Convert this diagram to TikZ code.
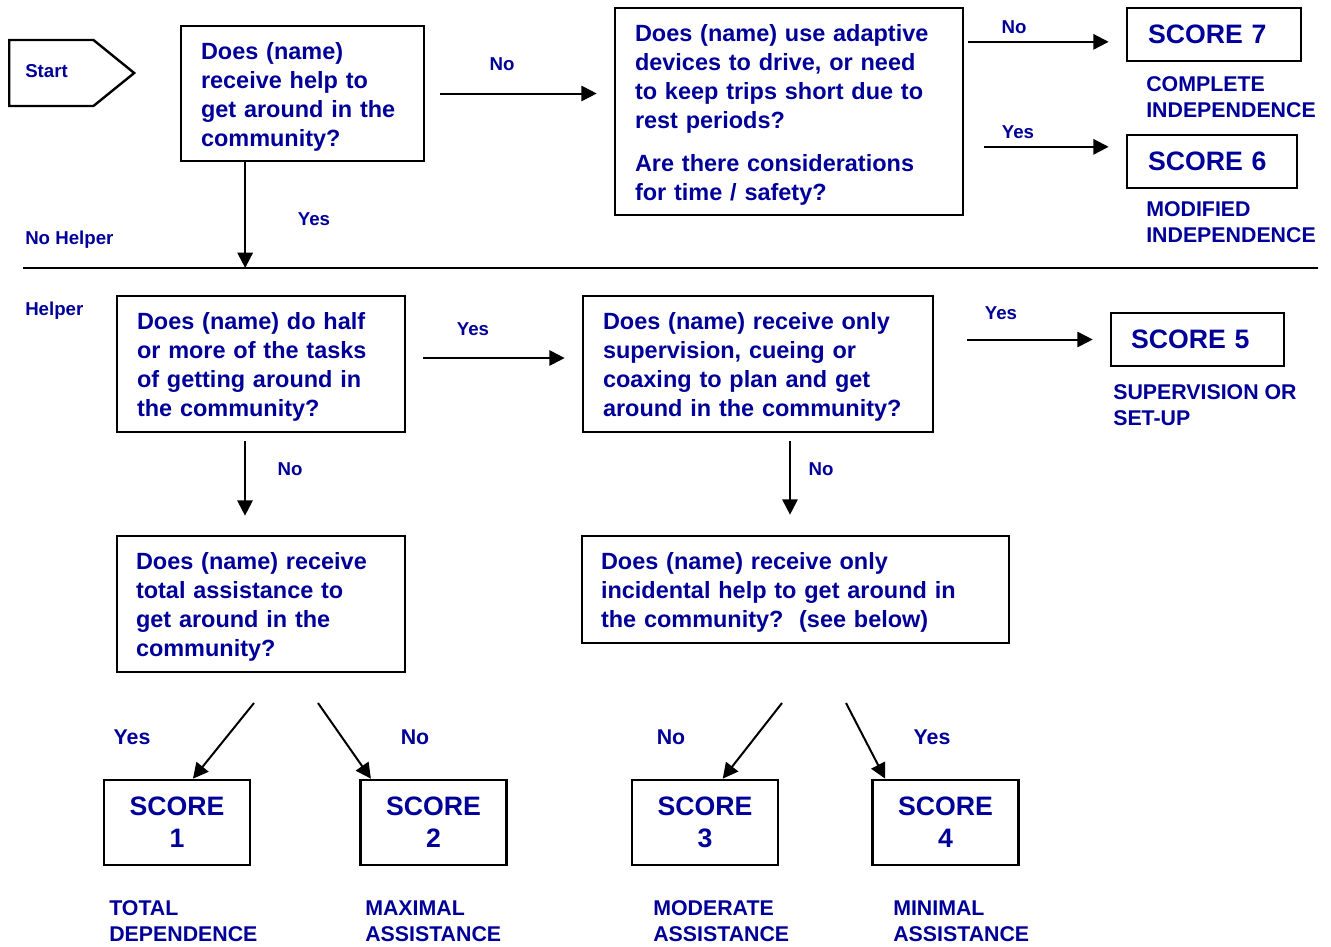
\documentclass[tikz,border=0pt]{standalone}
\usepackage{fontspec}
\setmainfont{Liberation Sans}
\usetikzlibrary{arrows.meta,shapes.symbols}
\definecolor{darkblue}{RGB}{0,0,153}
\newcommand{\qs}{\rule{0pt}{17.5pt}}

\begin{document}
\begin{tikzpicture}[x=0.75pt,y=-0.75pt,
  qbox/.style={draw,line width=2pt,align=left,inner xsep=15pt,inner ysep=0pt,text=darkblue,font=\fontsize{17.6}{21.75}\selectfont\bfseries},
  sbox/.style={draw,line width=2pt,align=left,inner xsep=15.75pt,inner ysep=0pt,minimum height=39.75pt,text=darkblue,font=\fontsize{20}{24}\selectfont\bfseries},
  lbox/.style={draw,line width=2pt,align=center,inner sep=0pt,minimum width=109.5pt,minimum height=63.75pt,text=darkblue,font=\fontsize{20}{24}\selectfont\bfseries},
  lbl/.style={inner sep=0pt,text depth=0pt,text=darkblue,font=\fontsize{14}{17}\selectfont\bfseries},
  biglbl/.style={inner sep=0pt,text depth=0pt,text=darkblue,font=\fontsize{16}{19.5}\selectfont\bfseries},
  desc/.style={inner sep=0pt,align=left,anchor=west,text=darkblue,font=\fontsize{16}{19.5}\selectfont\bfseries},
  arr/.style={-{Triangle[length=11.5pt,width=11.5pt]},line width=1.5pt}]
\useasboundingbox (0,0) rectangle (1331,946);

\node[draw,line width=1.8pt,signal,signal to=east,signal pointer angle=78,minimum width=93.75pt,minimum height=49.5pt,inner sep=0pt,anchor=west] (start) at (8,73) {};
\node[lbl,anchor=west] (starttxt) at (25,71) {Start};

\node[qbox,text width=152.25pt,minimum height=101.25pt] (q1) at (302.5,93.5) {\qs Does (name)\\receive help to\\get around in the\\community?};
\node[qbox,text width=231pt,minimum height=155.25pt] (q2) at (789,111.5) {\qs Does (name) use adaptive\\devices to drive, or need\\to keep trips short due to\\rest periods?\\[10.5pt]Are there considerations\\for time / safety?};
\node[qbox,text width=186pt,minimum height=102pt] (q3) at (261,364) {\qs Does (name) do half\\or more of the tasks\\of getting around in\\the community?};
\node[qbox,text width=232.5pt,minimum height=102pt] (q4) at (758,364) {\qs Does (name) receive only\\supervision, cueing or\\coaxing to plan and get\\around in the community?};
\node[qbox,inner xsep=14.25pt,text width=187.5pt,minimum height=102pt] (q5) at (261,604) {\qs Does (name) receive\\total assistance to\\get around in the\\community?};
\node[qbox,inner xsep=14.25pt,text width=291.75pt,minimum height=80.25pt] (q6) at (795.5,589.5) {\qs Does (name) receive only\\incidental help to get around in\\the community?~~(see below)};

\node[sbox,text width=99pt] (s7) at (1214,34.5) {SCORE 7};
\node[sbox,text width=96pt] (s6) at (1212,161.5) {SCORE 6};
\node[sbox,inner xsep=15pt,text width=99.75pt] (s5) at (1197.5,339.5) {SCORE 5};
\node[lbox] (s1) at (177,822.5) {SCORE\\1};
\node[lbox] (s2) at (433.5,822.5) {SCORE\\2};
\node[lbox] (s3) at (705,822.5) {SCORE\\3};
\node[lbox] (s4) at (945.5,822.5) {SCORE\\4};

\node[desc] (d7) at (1146,97) {COMPLETE\\INDEPENDENCE};
\node[desc] (d6) at (1146,222) {MODIFIED\\INDEPENDENCE};
\node[desc] (d5) at (1113,405) {SUPERVISION OR\\SET-UP};
\node[desc] (d1) at (109,921.5) {TOTAL\\DEPENDENCE};
\node[desc] (d2) at (365,921.5) {MAXIMAL\\ASSISTANCE};
\node[desc] (d3) at (653,921.5) {MODERATE\\ASSISTANCE};
\node[desc] (d4) at (893,921.5) {MINIMAL\\ASSISTANCE};

\node[lbl,anchor=west] (nohelper) at (25,238) {No Helper};
\node[lbl,anchor=west] (helper) at (25,309) {Helper};
\coordinate (divL) at (23,268);
\coordinate (divR) at (1318,268);
\path[draw,line width=1.5pt] (divL) -- (divR);

\path[draw,arr,shorten <=11pt,shorten >=12.75pt] (q1.east) -- (q1.east -| q2.west);
\node[lbl] (l1) at (502,64) {No};
\path[draw,arr] ([xshift=-43pt]q1.south) -- ([xshift=-43pt]q1.south |- divR);
\node[lbl] (l2) at (314,219) {Yes};
\path[draw,arr,shorten <=3pt,shorten >=12.75pt] ([yshift=-5.5pt]s7.west -| q2.east) -- ([yshift=-5.5pt]s7.west);
\node[lbl] (l3) at (1014,27) {No};
\path[draw,arr,shorten <=15pt,shorten >=12.75pt] ([yshift=11pt]s6.west -| q2.east) -- ([yshift=11pt]s6.west);
\node[lbl] (l4) at (1018,132) {Yes};

\path[draw,arr,shorten <=12.75pt,shorten >=12.75pt] ([yshift=4.5pt]q3.east) -- ([yshift=4.5pt]q4.west);
\node[lbl] (l5) at (473,329) {Yes};
\path[draw,arr,shorten <=24.75pt,shorten >=12.75pt] (q4.east |- s5.west) -- (s5.west);
\node[lbl] (l6) at (1001,313) {Yes};
\path[draw,arr,shorten <=6pt,shorten >=14.25pt] ([xshift=-12pt]q3.south) -- ([xshift=-12pt]q3.south |- q5.north);
\node[lbl] (l7) at (290,469) {No};
\path[draw,arr,shorten <=6pt,shorten >=15pt] ([xshift=24pt]q4.south) -- ([xshift=24pt]q4.south |- q6.north);
\node[lbl] (l8) at (821,469) {No};

\coordinate (t1) at (254,703);
\coordinate (t2) at (318,703);
\coordinate (t3) at (782,703);
\coordinate (t4) at (846,703);
\path[draw,arr] (t1) -- (s1.70);
\path[draw,arr] (t2) -- (s2.145);
\path[draw,arr] (t3) -- (s3.68);
\path[draw,arr] (t4) -- (s4.144);
\node[biglbl] (l9) at (132,737) {Yes};
\node[biglbl] (l10) at (415,737) {No};
\node[biglbl] (l11) at (671,737) {No};
\node[biglbl] (l12) at (932,737) {Yes};
\end{tikzpicture}
\end{document}
